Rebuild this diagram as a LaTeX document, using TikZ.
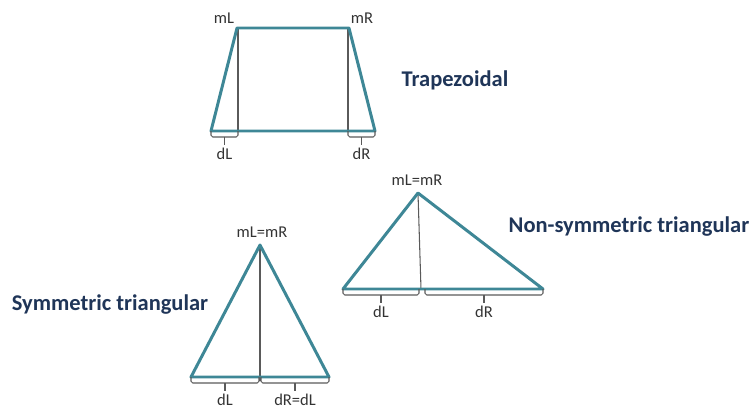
\documentclass[tikz,border=0pt]{standalone}
\usepackage{fontspec}
\setmainfont{Carlito}
\usetikzlibrary{positioning,calc}
\definecolor{ShapeTeal}{HTML}{3E8796}
\definecolor{TitleNavy}{HTML}{1F3558}
\definecolor{MarkGray}{HTML}{5A5A5A}
% brace under a base segment: x1, x2, y of base, name of tick end
\newcommand\basebrace[4]{%
  \draw[brace] (#1,#3) -- (#1,#3+6) -- (#2,#3+6) -- (#2,#3);
  \draw[guide] ({(#1+#2)/2},#3+6) -- ++(0,8) coordinate (#4);}

\begin{document}
\begin{tikzpicture}[x=0.02cm,y=-0.02cm,node distance=0.5pt,
  outline/.style={ShapeTeal,line width=1.7pt,line join=round},
  guide/.style={MarkGray,line width=0.6pt},
  brace/.style={MarkGray,line width=0.6pt,rounded corners=1pt},
  lbl/.style={font=\fontsize{9.4}{10}\selectfont,text=black!80,inner sep=1pt},
  title/.style={font=\fontsize{12.8}{14}\selectfont\bfseries,text=TitleNavy}]
  \useasboundingbox (0,0) rectangle (752,413);

  % trapezoidal
  \coordinate (tl) at (237,28);
  \coordinate (tr) at (349,28);
  \coordinate (bl) at (211,131);
  \coordinate (br) at (375,131);
  \draw[guide] (238,28) -- (238,131);
  \draw[guide] (348,28) -- (348,131);
  \draw[outline] (bl) -- (tl) -- (tr) -- (br) -- cycle;
  \basebrace{211}{238}{131}{trapL}
  \basebrace{348}{375}{131}{trapR}
  \node[lbl] (trapmL) at (224,18) {mL};
  \node[lbl] (trapmR) at (362,18) {mR};
  \node[lbl,below=of trapL] (trapdL) {dL};
  \node[lbl,below=of trapR] (trapdR) {dR};
  \node[title] (trap) at (455,80) {Trapezoidal};

  % non-symmetric triangular
  \coordinate (na) at (418,193);
  \coordinate (nl) at (343,289);
  \coordinate (nr) at (543,289);
  \draw[guide] (na) -- (421,289);
  \draw[outline] (nl) -- (na) -- (nr) -- cycle;
  \basebrace{343}{419}{289}{nonL}
  \basebrace{425}{543}{289}{nonR}
  \node[lbl] (nonm) at (417,180) {mL=mR};
  \node[lbl,below=of nonL] (nondL) {dL};
  \node[lbl,below=of nonR] (nondR) {dR};
  \node[title] (non) at (629,227) {Non-symmetric triangular};

  % symmetric triangular
  \coordinate (sa) at (260,245);
  \coordinate (sl) at (191,377);
  \coordinate (sr) at (329,377);
  \draw[guide] (sa) -- (260,381);
  \draw[outline] (sl) -- (sa) -- (sr) -- cycle;
  \basebrace{191}{259}{377}{symL}
  \basebrace{261}{329}{377}{symR}
  \node[lbl] (symm) at (262,232) {mL=mR};
  \node[lbl,below=of symL] (symdL) {dL};
  \node[lbl,below=of symR] (symdR) {dR=dL};
  \node[title] (sym) at (110,305) {Symmetric triangular};
\end{tikzpicture}
\end{document}
